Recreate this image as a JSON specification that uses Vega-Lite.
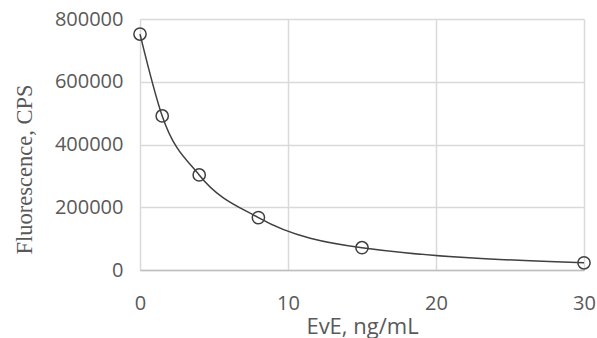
{
  "$schema": "https://vega.github.io/schema/vega-lite/v6.json",
  "width": 444,
  "height": 251,
  "autosize": {"type": "none"},
  "padding": {"left": 140, "top": 19, "right": 13, "bottom": 68},
  "background": "white",
  "config": {
    "view": {"stroke": null},
    "axis": {
      "gridColor": "#d9d9d9",
      "gridWidth": 1.5,
      "ticks": false,
      "labelColor": "#595959",
      "labelFont": "Open Sans",
      "labelFontSize": 20,
      "labelFlush": false,
      "titleColor": "#595959",
      "titleFontWeight": "normal"
    }
  },
  "data": {
    "values": [
      {"conc": 0, "cps": 752000},
      {"conc": 1.5, "cps": 491000},
      {"conc": 4, "cps": 303000},
      {"conc": 8, "cps": 167000},
      {"conc": 15, "cps": 71000},
      {"conc": 30, "cps": 23000}
    ]
  },
  "encoding": {
    "x": {
      "field": "conc",
      "type": "quantitative",
      "scale": {"domain": [0, 30], "nice": false, "zero": false},
      "axis": {
        "title": "EvE, ng/mL",
        "titleFont": "Open Sans",
        "titleFontSize": 22,
        "titleBaseline": "alphabetic",
        "titleY": 63,
        "values": [0, 10, 20, 30],
        "labelPadding": 23,
        "domainColor": "#bfbfbf",
        "domainWidth": 1.5
      }
    },
    "y": {
      "field": "cps",
      "type": "quantitative",
      "scale": {"domain": [0, 800000], "nice": false},
      "axis": {
        "title": "Fluorescence, CPS",
        "titleFont": "Liberation Serif",
        "titleFontSize": 22.5,
        "titleAngle": -90,
        "titleAlign": "center",
        "titleBaseline": "alphabetic",
        "titleX": -109,
        "titleY": 150,
        "values": [0, 200000, 400000, 600000, 800000],
        "format": "d",
        "labelPadding": 17,
        "domain": false
      }
    }
  },
  "layer": [
    {
      "mark": {"type": "line", "interpolate": "monotone", "color": "#404040", "strokeWidth": 1.5}
    },
    {
      "mark": {"type": "point", "shape": "circle", "filled": false, "size": 150, "color": "#404040", "strokeWidth": 1.5, "opacity": 1}
    }
  ]
}
